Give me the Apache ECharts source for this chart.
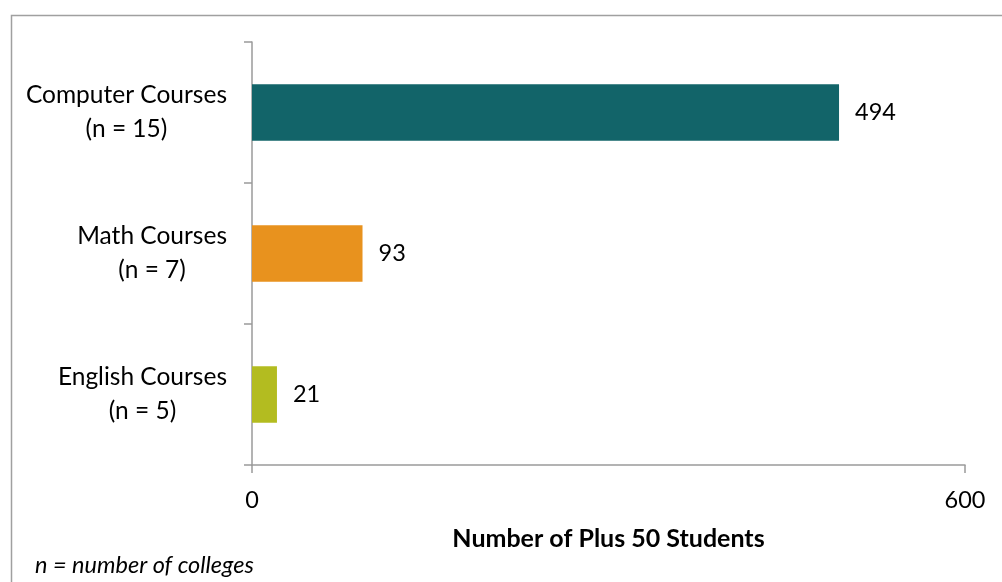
<!DOCTYPE html>
<html>
<head>
<meta charset="utf-8">
<style>
  html, body { margin: 0; padding: 0; background: #ffffff; }
  #chart { width: 1002px; height: 582px; }
</style>
<script src="https://cdn.jsdelivr.net/npm/echarts@6/dist/echarts.min.js"></script>
</head>
<body>
<div id="chart"></div>
<script>
// Course categories (top to bottom) and number of colleges in each
const categories = ['Computer Courses', 'Math Courses', 'English Courses'];
const collegeCounts = [15, 7, 5];
// Number of Plus 50 students per course type
const students = [494, 93, 21];
const barColors = ['#126469', '#E8921E', '#B3BC20'];
// Value axis range and tick spacing
const axisMin = 0;
const axisMax = 600;
const axisStep = 600;

const FONT = 'Lato, "Open Sans", sans-serif';

const chart = echarts.init(document.getElementById('chart'), null, { renderer: 'canvas' });

chart.setOption({
  animation: false,
  backgroundColor: '#ffffff',
  grid: { left: 252, right: 37, top: 42, bottom: 117, containLabel: false },
  xAxis: {
    type: 'value',
    min: axisMin,
    max: axisMax,
    interval: axisStep,
    name: 'Number of Plus 50 Students',
    nameLocation: 'middle',
    nameGap: 61,
    nameTextStyle: { fontFamily: FONT, fontSize: 25, fontWeight: 'bold', color: '#000000' },
    axisLine: { show: true, lineStyle: { color: '#9a9a9a', width: 1.5 } },
    axisTick: { show: true, length: 8, lineStyle: { color: '#9a9a9a', width: 1.5 } },
    axisLabel: { margin: 23, fontFamily: FONT, fontSize: 23.5, color: '#000000' },
    splitLine: { show: false }
  },
  yAxis: {
    type: 'category',
    inverse: true,
    data: categories,
    axisLine: { show: true, lineStyle: { color: '#9a9a9a', width: 1.5 } },
    axisTick: { show: true, length: 8, lineStyle: { color: '#9a9a9a', width: 1.5 } },
    axisLabel: {
      margin: 25,
      fontFamily: FONT,
      fontSize: 24.5,
      color: '#000000',
      align: 'right',
      lineHeight: 34,
      formatter: function (value, idx) {
        return '{c|' + value + '}\n{c|(n = ' + collegeCounts[idx] + ')}';
      },
      rich: {
        c: { align: 'center', fontFamily: FONT, fontSize: 24.5, lineHeight: 34, color: '#000000' }
      }
    }
  },
  series: [{
    type: 'bar',
    barWidth: '40%',
    data: students.map(function (v, i) {
      return { value: v, itemStyle: { color: barColors[i] } };
    }),
    label: {
      show: true,
      position: 'right',
      distance: 16,
      fontFamily: FONT,
      fontSize: 23.5,
      color: '#000000'
    }
  }],
  graphic: [
    {
      type: 'rect',
      left: 9, top: 13,
      shape: { width: 1100, height: 700 },
      style: { fill: 'none', stroke: '#a0a0a0', lineWidth: 1.5 },
      silent: true
    },
    {
      type: 'text',
      left: 35, top: 554,
      style: {
        text: 'n = number of colleges',
        fontFamily: FONT,
        fontSize: 23.5,
        fontStyle: 'italic',
        fill: '#000000'
      }
    }
  ]
});
</script>
</body>
</html>
